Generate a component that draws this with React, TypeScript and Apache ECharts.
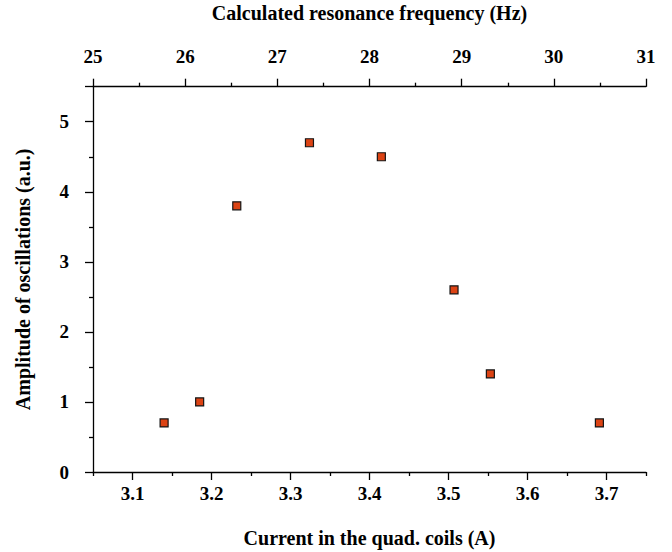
import React, { useEffect, useRef } from "react";
import * as echarts from "echarts";

const currentA = [3.14, 3.185, 3.232, 3.324, 3.415, 3.507, 3.553, 3.691];
const amplitude = [0.7, 1.0, 3.8, 4.7, 4.5, 2.6, 1.4, 0.7];

const currentMajor = [3.1, 3.2, 3.3, 3.4, 3.5, 3.6, 3.7];
const currentMinor = [3.05, 3.15, 3.25, 3.35, 3.45, 3.55, 3.65, 3.75];
const freqMajor = [25, 26, 27, 28, 29, 30, 31];
const freqMinor = [25.5, 26.5, 27.5, 28.5, 29.5, 30.5];
const ampLabels = [0, 1, 2, 3, 4, 5];
const ampMajorTicks = [0, 1, 2, 3, 4, 5, 5.5];
const ampMinor = [0.5, 1.5, 2.5, 3.5, 4.5];

const FONT = "Liberation Serif";

export default function App() {
  const ref = useRef<HTMLDivElement>(null);
  useEffect(() => {
    const chart = echarts.init(ref.current!, null, { renderer: "svg" });
    const gridBox = {
      left: 93,
      right: 26,
      top: 86.7,
      bottom: 80,
      containLabel: false,
      outerBoundsMode: "none",
    };
    const lineStyle = { color: "#000", width: 1.3 };
    const labelStyle = { color: "#000", fontFamily: FONT, fontWeight: "bold" as const, fontSize: 19 };
    const nameStyle = { color: "#000", fontFamily: FONT, fontWeight: "bold" as const, fontSize: 20 };
    const hidden = { show: false };
    chart.setOption({
      animation: false,
      backgroundColor: "#fff",
      textStyle: { fontFamily: FONT },
      grid: [{ ...gridBox }, { ...gridBox }],
      xAxis: [
        {
          type: "value",
          gridIndex: 0,
          position: "bottom",
          min: 3.05,
          max: 3.75,
          name: "Current in the quad. coils (A)",
          nameLocation: "middle",
          nameGap: 56,
          nameTextStyle: nameStyle,
          axisLine: { show: true, lineStyle },
          axisTick: { show: true, inside: false, length: 8, lineStyle, customValues: currentMajor },
          axisLabel: {
            ...labelStyle,
            margin: 12,
            customValues: currentMajor,
            formatter: (v: number) => v.toFixed(1),
          },
          splitLine: hidden,
        },
        {
          type: "value",
          gridIndex: 0,
          position: "top",
          min: 25,
          max: 31,
          name: "Calculated resonance frequency (Hz)",
          nameLocation: "middle",
          nameGap: 64,
          nameTextStyle: nameStyle,
          axisLine: { show: true, lineStyle },
          axisTick: { show: true, inside: false, length: 8, lineStyle, customValues: freqMajor },
          axisLabel: {
            ...labelStyle,
            margin: 21,
            customValues: freqMajor,
            formatter: (v: number) => String(v),
          },
          splitLine: hidden,
        },
        {
          type: "value",
          gridIndex: 1,
          position: "bottom",
          min: 3.05,
          max: 3.75,
          axisLine: hidden,
          axisTick: { show: true, inside: false, length: 4, lineStyle, customValues: currentMinor },
          axisLabel: hidden,
          splitLine: hidden,
        },
        {
          type: "value",
          gridIndex: 1,
          position: "top",
          min: 25,
          max: 31,
          axisLine: hidden,
          axisTick: { show: true, inside: false, length: 4, lineStyle, customValues: freqMinor },
          axisLabel: hidden,
          splitLine: hidden,
        },
      ],
      yAxis: [
        {
          type: "value",
          gridIndex: 0,
          position: "left",
          min: 0,
          max: 5.5,
          name: "Amplitude of oscillations (a.u.)",
          nameLocation: "middle",
          nameGap: 60,
          nameTextStyle: nameStyle,
          axisLine: { show: true, lineStyle },
          axisTick: { show: true, inside: false, length: 8, lineStyle, customValues: ampMajorTicks },
          axisLabel: {
            ...labelStyle,
            margin: 24,
            customValues: ampLabels,
            formatter: (v: number) => String(v),
          },
          splitLine: hidden,
        },
        {
          type: "value",
          gridIndex: 1,
          position: "left",
          min: 0,
          max: 5.5,
          axisLine: hidden,
          axisTick: { show: true, inside: false, length: 4, lineStyle, customValues: ampMinor },
          axisLabel: hidden,
          splitLine: hidden,
        },
      ],
      series: [
        {
          type: "scatter",
          xAxisIndex: 0,
          yAxisIndex: 0,
          data: currentA.map((x, i) => [x, amplitude[i]]),
          symbol: "rect",
          symbolSize: 8,
          itemStyle: {
            color: "#dc4314",
            borderColor: "#151515",
            borderWidth: 1.2,
            opacity: 1,
          },
        },
      ],
    });
    return () => chart.dispose();
  }, []);
  return (
    <div
      ref={ref}
      style={{ position: "absolute", left: 0, top: 0, width: 672, height: 552 }}
    />
  );
}
